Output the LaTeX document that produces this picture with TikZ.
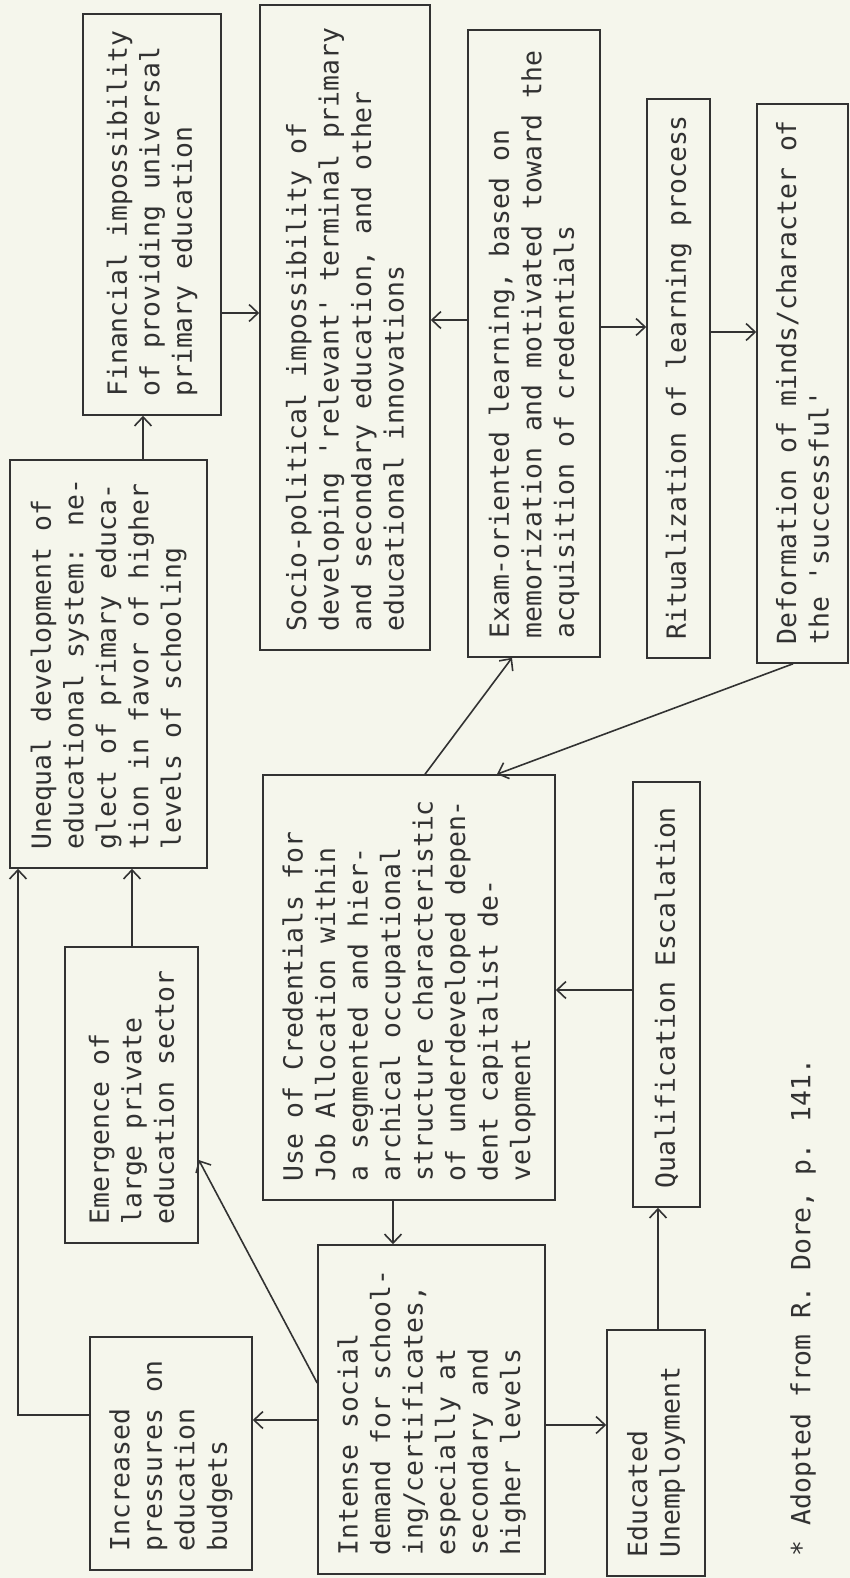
\documentclass[tikz,border=0pt]{standalone}
\usepackage{fontspec}
\newfontfamily\tw{DejaVu Sans Mono}
\usetikzlibrary{arrows.meta}
\definecolor{bg}{RGB}{245,246,236}
\definecolor{ink}{RGB}{50,50,50}
\newcommand\q{\textquotesingle}
\tikzset{
  box/.style={draw=ink, line width=1.6pt, inner sep=0pt, rectangle},
  txt/.style={rotate=90, anchor=west, inner sep=0pt, align=left, text=ink,
    font=\tw\fontsize{26.4}{32.5}\selectfont},
  arr/.style={draw=ink, line width=1.6pt, -{Straight Barb[length=9pt,width=17pt,line width=1.6pt]}},
  ln/.style={draw=ink, line width=1.6pt}
}
\begin{document}
\begin{tikzpicture}[x=1pt,y=-1pt]
\fill[bg] (0,0) rectangle (850,1578);
\useasboundingbox (0,0) rectangle (850,1578);
% boxes
\node[box, minimum width=138pt, minimum height=401pt] (fin) at (152,214.5) {};
\node[box, minimum width=170pt, minimum height=645pt] (soc) at (345,327.5) {};
\node[box, minimum width=132pt, minimum height=627pt] (exam) at (534,343.5) {};
\node[box, minimum width=63pt, minimum height=559pt] (rit) at (678.5,378.5) {};
\node[box, minimum width=91pt, minimum height=559pt] (def) at (802.5,383.5) {};
\node[box, minimum width=197pt, minimum height=408pt] (uneq) at (108.5,664) {};
\node[box, minimum width=133pt, minimum height=296pt] (emer) at (131.5,1095) {};
\node[box, minimum width=292pt, minimum height=425pt] (use) at (409,987.5) {};
\node[box, minimum width=67pt, minimum height=425pt] (qual) at (666.5,994.5) {};
\node[box, minimum width=162pt, minimum height=233pt] (inc) at (171,1453.5) {};
\node[box, minimum width=227pt, minimum height=329pt] (int) at (431.5,1409.5) {};
\node[box, minimum width=98pt, minimum height=246pt] (edu) at (656,1453) {};
% texts
\node[txt] (finT) at ([yshift=19pt]fin.south) {Financial impossibility\\of providing universal\\primary education};
\node[txt] (socT) at ([yshift=19pt]soc.south) {Socio-political impossibility of\\developing \q relevant\q{} terminal primary\\and secondary education, and other\\educational innovations};
\node[txt] (examT) at ([yshift=19pt]exam.south) {Exam-oriented learning, based on\\memorization and motivated toward the\\acquisition of credentials};
\node[txt] (ritT) at ([yshift=19pt]rit.south) {Ritualization of learning process};
\node[txt] (defT) at ([yshift=19pt]def.south) {Deformation of minds/character of\\the \q successful\q};
\node[txt] (uneqT) at ([yshift=19pt]uneq.south) {Unequal development of\\educational system: ne-\\glect of primary educa-\\tion in favor of higher\\levels of schooling};
\node[txt] (emerT) at ([yshift=19pt]emer.south) {Emergence of\\large private\\education sector};
\node[txt] (useT) at ([yshift=19pt]use.south) {Use of Credentials for\\Job Allocation within\\a segmented and hier-\\archical occupational\\structure characteristic\\of underdeveloped depen-\\dent capitalist de-\\velopment};
\node[txt] (qualT) at ([yshift=19pt]qual.south) {Qualification Escalation};
\node[txt] (incT) at ([yshift=19pt]inc.south) {Increased\\pressures on\\education\\budgets};
\node[txt] (intT) at ([yshift=19pt]int.south) {Intense social\\demand for school-\\ing/certificates,\\especially at\\secondary and\\higher levels};
\node[txt] (eduT) at ([yshift=19pt]edu.south) {Educated\\Unemployment};
\node[txt] (note) at (803,1557) {* Adopted from R. Dore, p. 141.};
% connectors
\draw[arr] (fin.east |- 0,313) -- (soc.west |- 0,313);
\draw[arr] (exam.west |- 0,320) -- (soc.east |- 0,320);
\draw[arr] (exam.east |- 0,327) -- (rit.west |- 0,327);
\draw[arr] (rit.east |- 0,332) -- (def.west |- 0,332);
\draw[arr] (143,0 |- uneq.north) -- (143,0 |- fin.south);
\draw[arr] (132,0 |- emer.north) -- (132,0 |- uneq.south);
\draw[arr] (inc.west |- 0,1415) -| (18,0 |- uneq.south);
\draw[arr] (int.west |- 0,1420) -- (inc.east |- 0,1420);
\draw[arr] (int.east |- 0,1425) -- (edu.west |- 0,1425);
\draw[arr] (int.west |- 0,1383) -- (emer.east |- 0,1160);
\draw[arr] (393,0 |- use.south) -- (393,0 |- int.north);
\draw[arr] (425,0 |- use.north) -- (512,0 |- exam.south);
\draw[arr] (793,0 |- def.south) -- (497,0 |- use.north);
\draw[arr] (qual.west |- 0,990) -- (use.east |- 0,990);
\draw[arr] (658,0 |- edu.north) -- (658,0 |- qual.south);
\end{tikzpicture}
\end{document}
